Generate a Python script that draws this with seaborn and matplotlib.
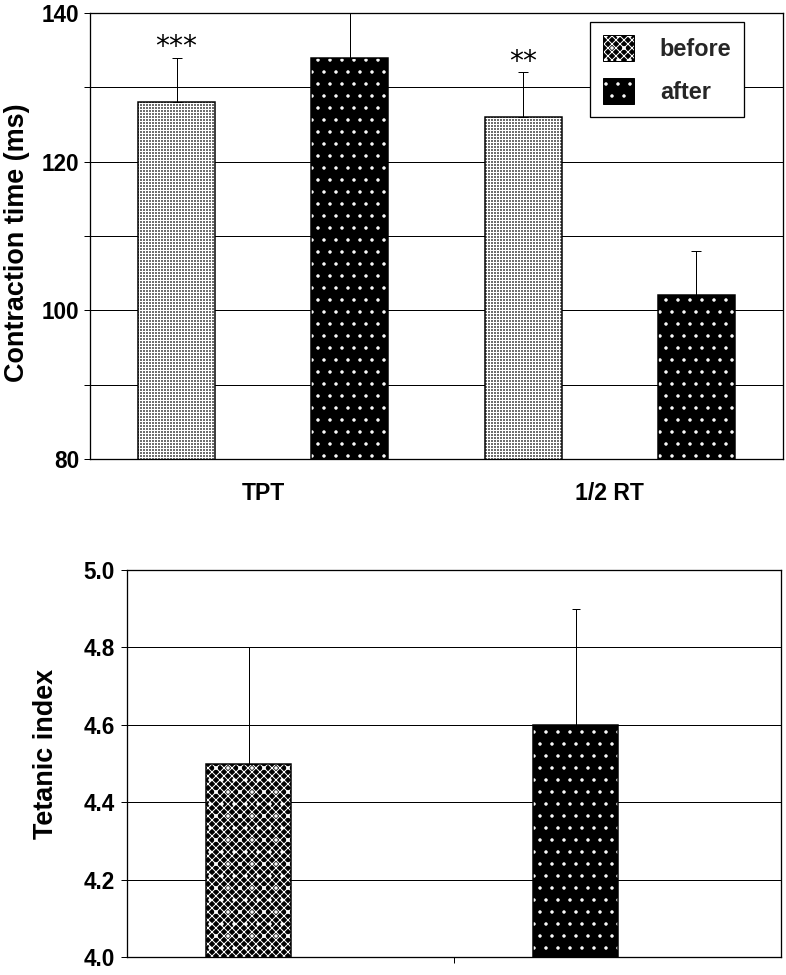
import numpy as np
import pandas as pd
import matplotlib
matplotlib.use("Agg")
import matplotlib.pyplot as plt
import matplotlib.colors as mcolors
from matplotlib.patches import Patch
import seaborn as sns

# ---------------- data ----------------
measures = ["TPT", "1/2 RT"]
conditions = ["before", "after"]
ct_before = [128, 126]
ct_before_sd = [6, 6]
ct_after = [134, 102]
ct_after_sd = [7, 6]
ct_stars = ["***", "**"]

ct_yticks = [80, 90, 100, 110, 120, 130, 140]
ct_yticklabels = ["80", "", "100", "", "120", "", "140"]

ti_groups = ["before", "after"]
ti_mean = [4.5, 4.6]
ti_sd = [0.3, 0.3]
ti_yticks = [4.0, 4.2, 4.4, 4.6, 4.8, 5.0]
ti_yticklabels = ["4.0", "4.2", "4.4", "4.6", "4.8", "5.0"]

# ---------------- style ----------------
sns.set_theme(style="white")
plt.rcParams["font.family"] = ["Liberation Sans", "DejaVu Sans"]
plt.rcParams["font.weight"] = "bold"
plt.rcParams["hatch.linewidth"] = 1.0

DPI = 72
W, H = 786, 975
fig = plt.figure(figsize=(W / DPI, H / DPI), dpi=DPI)
fig.patch.set_facecolor("white")

ax1 = fig.add_axes([90 / W, 1 - 459 / H, 693 / W, 446 / H])
ax2 = fig.add_axes([127 / W, 1 - 957 / H, 654 / W, 387 / H])

WHITE = mcolors.to_rgba("white")
hatch_styles = {
    "top_before": ("#6e6e6e", "++++"),
    "after": ("black", "."),
    "check_before": ("black", "xxx."),
}


def style_patch(p, key):
    fc, hatch = hatch_styles[key]
    p.set_facecolor(fc)
    p.set_edgecolor("black")
    p.set_hatch(hatch)
    p._hatch_color = WHITE


# ---------------- top panel ----------------
df_ct = pd.DataFrame({
    "measure": measures * 2,
    "condition": ["before"] * 2 + ["after"] * 2,
    "value": ct_before + ct_after,
    "sd": ct_before_sd + ct_after_sd,
})
sns.barplot(data=df_ct, x="measure", y="value", hue="condition",
            order=measures, hue_order=conditions,
            palette={"before": "#6e6e6e", "after": "black"},
            width=1.0, gap=0.556, edgecolor="black", linewidth=1.5,
            saturation=1, legend=False, ax=ax1)

sd_map = {"before": ct_before_sd, "after": ct_after_sd}
val_map = {"before": ct_before, "after": ct_after}
for cond, cont in zip(conditions, ax1.containers):
    xs = []
    for j, p in enumerate(cont.patches):
        style_patch(p, "top_before" if cond == "before" else "after")
        xs.append(p.get_x() + p.get_width() / 2)
    vals = val_map[cond]
    sds = sd_map[cond]
    ax1.errorbar(xs, vals, yerr=[np.zeros(len(sds)), sds], fmt="none",
                 ecolor="black", elinewidth=1.0, capsize=5, capthick=1.0,
                 zorder=1)
    if cond == "before":
        for x, v, s, st in zip(xs, vals, sds, ct_stars):
            ax1.text(x, v + s + 0.3, st, ha="center", va="baseline",
                     fontsize=28, fontweight="normal",
                     family=["DejaVu Sans"], color="black")

ax1.set_xlim(-0.5, len(measures) - 0.5)
ax1.set_ylim(80, 140)
ax1.set_yticks(ct_yticks)
ax1.set_yticklabels(ct_yticklabels)
ax1.yaxis.grid(True, color="black", linewidth=1.0)
ax1.xaxis.grid(False)
ax1.set_axisbelow(True)
ax1.set_xlabel("")
ax1.set_ylabel("Contraction time (ms)", fontsize=27, fontweight="bold",
               color="black")
ax1.yaxis.set_label_coords(-0.087, 0.484)
ax1.tick_params(axis="y", length=6, width=1, color="black", pad=5,
                labelsize=22.5, labelcolor="black", left=True)
ax1.tick_params(axis="x", length=0, pad=23, labelsize=23,
                labelcolor="black")
for sp in ax1.spines.values():
    sp.set_color("black")
    sp.set_linewidth(1.3)

legend_handles = []
for key, lab in [("check_before", "before"), ("after", "after")]:
    fc, hatch = hatch_styles[key]
    hp = Patch(facecolor=fc, edgecolor="black", hatch=hatch, label=lab)
    hp._hatch_color = WHITE
    legend_handles.append(hp)
leg = ax1.legend(handles=legend_handles, loc="upper left",
                 bbox_to_anchor=(0.7215, 0.980), borderaxespad=0,
                 frameon=True, fancybox=False, edgecolor="black",
                 framealpha=1, prop={"weight": "bold", "size": 23.5},
                 handlelength=1.32, handleheight=1.32, handletextpad=1.1,
                 labelspacing=0.75, borderpad=0.55)
leg.get_frame().set_linewidth(1.3)

# ---------------- bottom panel ----------------
df_ti = pd.DataFrame({"group": ti_groups, "value": ti_mean, "sd": ti_sd})
sns.barplot(data=df_ti, x="group", y="value", hue="group",
            order=ti_groups, hue_order=ti_groups,
            palette={"before": "black", "after": "black"},
            width=0.26, edgecolor="black", linewidth=1.5,
            saturation=1, legend=False, ax=ax2)

xs2, vals2, sds2 = [], [], []
for cont, g in zip(ax2.containers, ti_groups):
    for p in cont.patches:
        if p.get_height() == 0 or np.isnan(p.get_height()):
            continue
        style_patch(p, "check_before" if g == "before" else "after")
        xs2.append(p.get_x() + p.get_width() / 2)
        i = ti_groups.index(g)
        vals2.append(ti_mean[i])
        sds2.append(ti_sd[i])
ax2.errorbar(xs2, vals2, yerr=[np.zeros(len(sds2)), sds2], fmt="none",
             ecolor="black", elinewidth=1.0, capsize=4, capthick=1.0,
             zorder=1)

ax2.set_ylim(4.0, 5.0)
ax2.set_yticks(ti_yticks)
ax2.set_yticklabels(ti_yticklabels)
ax2.set_xlim(-0.373, 1.627)
ax2.set_xticks([0.627])
ax2.set_xticklabels([""])
ax2.yaxis.grid(True, color="black", linewidth=1.0)
ax2.xaxis.grid(False)
ax2.set_axisbelow(True)
ax2.set_xlabel("")
ax2.set_ylabel("Tetanic index", fontsize=27, fontweight="bold",
               color="black")
ax2.yaxis.set_label_coords(-0.104, 0.526)
ax2.tick_params(axis="y", length=6, width=1, color="black", pad=6,
                labelsize=22.5, labelcolor="black", left=True)
ax2.tick_params(axis="x", length=6, width=1, color="black",
                direction="out", bottom=True)
for sp in ax2.spines.values():
    sp.set_color("black")
    sp.set_linewidth(1.3)

fig.savefig("out.png", dpi=DPI, facecolor="white")
